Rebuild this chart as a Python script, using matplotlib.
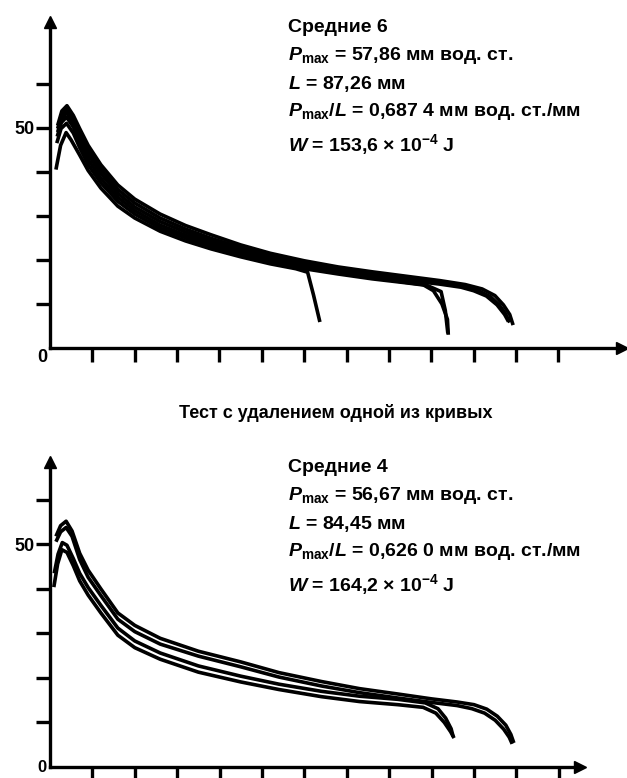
import matplotlib
matplotlib.use('Agg')
import matplotlib.pyplot as plt

plt.rcParams['font.family'] = ['Liberation Sans', 'DejaVu Sans']
plt.rcParams['font.weight'] = 'bold'
plt.rcParams['mathtext.fontset'] = 'custom'
plt.rcParams['mathtext.rm'] = 'Liberation Sans:bold'
plt.rcParams['mathtext.it'] = 'Liberation Sans:italic:bold'

# верхний график: 6 кривых
top_x = [
    [1.8, 2.8, 4.0, 5.5, 7, 9, 12, 16, 20, 26, 32, 38, 45, 52, 60, 68, 76, 84, 92, 98, 102, 105, 107, 108.5, 109.3],
    [1.8, 2.8, 4.0, 5.5, 7, 9, 12, 16, 20, 26, 32, 38, 45, 52, 60, 68, 76, 84, 92, 98, 101, 104, 106, 107.5, 108.5],
    [1.8, 2.8, 4.0, 5.5, 7, 9, 12, 16, 20, 26, 32, 38, 45, 52, 60, 68, 76, 84, 92, 97, 100, 103, 105.5, 107.3, 108.2],
    [1.7, 2.7, 3.9, 5.5, 7, 9, 12, 16, 20, 26, 32, 38, 45, 52, 60, 68, 76, 84, 88, 90.5, 92.5, 93.8, 94.0],
    [1.6, 2.6, 3.9, 5.5, 7, 9, 12, 16, 20, 26, 32, 38, 45, 52, 60, 68, 76, 84, 89, 92.3, 93.3, 93.9],
    [1.4, 2.5, 3.8, 5, 7, 9, 12, 16, 20, 26, 32, 38, 45, 52, 58, 60.8, 62.2, 63.7],
]
top_y = [
    [50.5, 53.8, 55.0, 52.8, 49.8, 46.0, 41.6, 37.0, 33.8, 30.4, 27.8, 25.7, 23.4, 21.5, 19.8, 18.4, 17.3, 16.3, 15.3, 14.4, 13.4, 11.9, 9.8, 7.6, 5.2],
    [49.8, 53.0, 54.2, 52.0, 48.9, 45.0, 40.6, 36.0, 32.9, 29.5, 27.0, 24.9, 22.8, 20.9, 19.2, 17.9, 16.8, 15.8, 14.9, 14.0, 13.1, 11.6, 9.8, 7.8, 5.8],
    [49.0, 52.2, 53.4, 51.2, 48.0, 44.0, 39.6, 35.1, 32.0, 28.7, 26.3, 24.3, 22.2, 20.4, 18.8, 17.5, 16.4, 15.4, 14.5, 13.8, 13.0, 11.8, 9.8, 7.6, 6.0],
    [48.0, 51.2, 52.4, 50.2, 46.8, 42.8, 38.5, 34.2, 31.2, 27.9, 25.6, 23.7, 21.7, 19.9, 18.3, 17.1, 16.0, 14.9, 14.4, 13.0, 10.0, 6.5, 3.0],
    [46.5, 49.8, 51.0, 48.8, 45.5, 41.6, 37.5, 33.3, 30.4, 27.2, 25.0, 23.1, 21.2, 19.5, 18.0, 16.8, 15.7, 14.8, 14.2, 12.8, 8.5, 3.3],
    [40.5, 46.0, 48.9, 47.2, 43.8, 40.3, 36.3, 32.2, 29.5, 26.5, 24.3, 22.5, 20.7, 19.1, 18.0, 17.2, 12.0, 5.9],
]

# нижний график: 4 кривые
bot_x = [
    [1.4, 2.5, 3.8, 5.2, 7, 9, 12, 16, 20, 26, 35, 45, 54, 64, 73, 82, 90, 96, 100, 103, 105.5, 107.5, 108.7, 109.4],
    [1.4, 2.5, 3.8, 5.2, 7, 9, 12, 16, 20, 26, 35, 45, 54, 64, 73, 82, 90, 96, 99.5, 102.5, 105, 107, 108.3, 109.0],
    [0.9, 1.8, 2.8, 4.0, 5.5, 7, 9, 12, 16, 20, 26, 35, 45, 54, 64, 73, 82, 88, 91, 93, 94.5, 95.3],
    [1.0, 1.9, 2.9, 4.0, 5.5, 7, 9, 12, 16, 20, 26, 35, 45, 54, 64, 73, 82, 88.5, 91.5, 93.3, 94.6, 95.1],
]
bot_y = [
    [51.8, 54.2, 55.2, 53.0, 48.0, 44.2, 40.0, 34.6, 31.8, 28.9, 26.0, 23.6, 21.2, 19.2, 17.6, 16.4, 15.3, 14.6, 14.0, 13.0, 11.4, 9.4, 7.3, 5.4],
    [50.6, 52.8, 53.8, 51.8, 46.6, 42.6, 38.5, 33.2, 30.4, 27.6, 24.9, 22.5, 20.2, 18.2, 16.7, 15.5, 14.5, 13.8, 13.1, 12.1, 10.5, 8.5, 6.7, 5.2],
    [40.4, 45.6, 48.8, 48.2, 45.2, 41.8, 38.6, 34.6, 29.6, 26.8, 24.2, 21.3, 19.1, 17.4, 15.8, 14.7, 14.0, 13.4, 12.1, 10.0, 7.9, 6.5],
    [43.5, 47.8, 50.4, 49.8, 46.8, 43.5, 40.3, 36.3, 31.2, 28.3, 25.6, 22.7, 20.4, 18.6, 17.0, 15.9, 15.2, 14.4, 13.1, 11.0, 8.6, 6.8],
]

x_ticks = [10, 20, 30, 40, 50, 60, 70, 80, 90, 100, 110, 120]
y_ticks = [10, 20, 30, 40, 50, 60]
y_labels = ['', '', '', '', '50', '']

top_text = ['Средние 6',
            r'$\mathit{P}_{\mathrm{max}}$ = 57,86 мм вод. ст.',
            r'$\mathit{L}$ = 87,26 мм',
            r'$\mathit{P}_{\mathrm{max}}$/$\mathit{L}$ = 0,687 4 мм вод. ст./мм',
            r'$\mathit{W}$ = 153,6 × 10$^{-4}$ J']
bot_text = ['Средние 4',
            r'$\mathit{P}_{\mathrm{max}}$ = 56,67 мм вод. ст.',
            r'$\mathit{L}$ = 84,45 мм',
            r'$\mathit{P}_{\mathrm{max}}$/$\mathit{L}$ = 0,626 0 мм вод. ст./мм',
            r'$\mathit{W}$ = 164,2 × 10$^{-4}$ J']
title = 'Тест с удалением одной из кривых'

W, H = 627, 778
fig = plt.figure(figsize=(W / 100, H / 100), dpi=100)
fig.patch.set_facecolor('white')


def make_axes(left, bottom, right, top, xmax, ymax, xs, ys):
    ax = fig.add_axes([left / W, (H - bottom) / H, (right - left) / W, (bottom - top) / H])
    for x, y in zip(xs, ys):
        ax.plot(x, y, color='black', lw=2.6, solid_capstyle='butt', clip_on=False)
    ax.set_xlim(0, xmax)
    ax.set_ylim(0, ymax)
    ax.spines['top'].set_visible(False)
    ax.spines['right'].set_visible(False)
    ax.spines['left'].set_linewidth(2.4)
    ax.spines['bottom'].set_linewidth(2.4)
    ax.set_xticks(x_ticks)
    ax.set_xticklabels([])
    ax.set_yticks(y_ticks)
    ax.set_yticklabels(y_labels, fontsize=13, fontweight='bold')
    ax.tick_params(direction='out', length=10, width=2.4, pad=1)
    # стрелки на концах осей
    ax.plot(1, 0, '>k', ms=9, transform=ax.get_yaxis_transform(), clip_on=False)
    ax.plot(0, 1, '^k', ms=9, transform=ax.get_xaxis_transform(), clip_on=False)
    return ax


ax1 = make_axes(50, 348, 622, 22, 135, 74, top_x, top_y)
ax2 = make_axes(50, 767, 580, 462, 125, 68.5, bot_x, bot_y)

# подписи нуля в углу осей
fig.text(42 / W, 1 - 358 / H, '0', ha='center', va='center', fontsize=13, fontweight='bold')
fig.text(42 / W, 1 - 768 / H, '0', ha='center', va='center', fontsize=12, fontweight='bold')

line_y_top = [27, 56, 84, 112, 145]
line_y_bot = [467, 496, 524, 552, 585]
for s, yy in zip(top_text, line_y_top):
    fig.text(288 / W, 1 - yy / H, s, ha='left', va='center', fontsize=14, fontweight='bold')
for s, yy in zip(bot_text, line_y_bot):
    fig.text(288 / W, 1 - yy / H, s, ha='left', va='center', fontsize=14, fontweight='bold')

fig.text(336 / W, 1 - 413 / H, title, ha='center', va='center', fontsize=13, fontweight='bold')

fig.savefig('out.png', dpi=100, facecolor='white')
